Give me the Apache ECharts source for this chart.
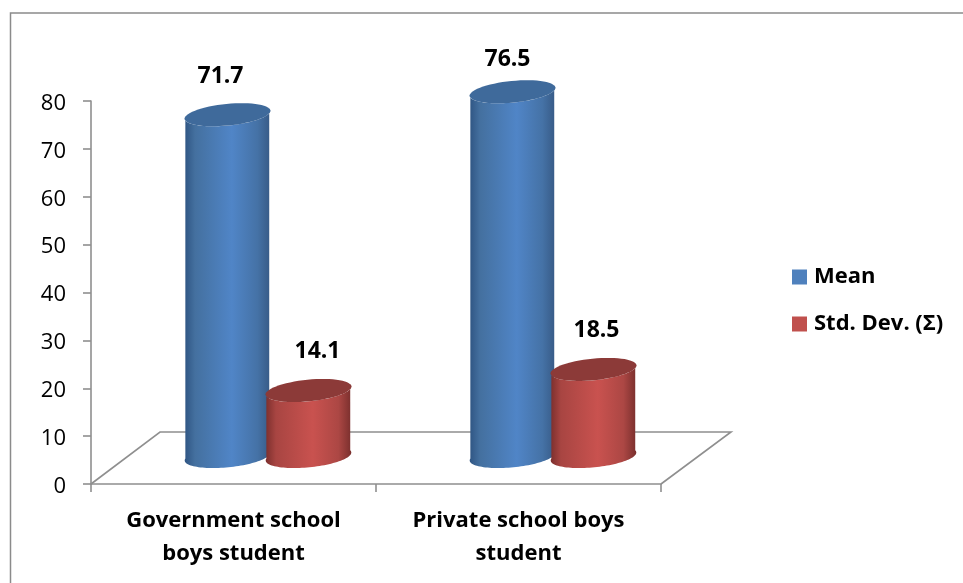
<!DOCTYPE html>
<html><head><meta charset="utf-8">
<style>html,body{margin:0;padding:0;background:#fff}#c{width:963px;height:583px}</style>
<script src="https://cdn.jsdelivr.net/npm/echarts@6/dist/echarts.min.js"></script>
</head><body><div id="c"></div>
<script>
const categories = ['Government school\nboys student', 'Private school boys\nstudent'];
const meanValues = [71.7, 76.5];
const stdValues = [14.1, 18.5];
const yTicks = { min: 0, max: 80, interval: 10 };

const FONT = '"Open Sans", sans-serif';
const depth = { x: 69, y: 52 };
const rx = 43, ry = 10.8, tilt = -5.6 * Math.PI / 180;
const barOffset = 40.5;
const labelOffsets = {
  Mean: [[-7, -38], [-5, -32]],
  Std: [[9, -39], [3, -39]]
};

function ell(cx, cy, t) {
  const ex = rx * Math.cos(t), ey = ry * Math.sin(t);
  return [cx + ex * Math.cos(tilt) - ey * Math.sin(tilt), cy + ex * Math.sin(tilt) + ey * Math.cos(tilt)];
}
function ellipsePts(cx, cy, from, to) {
  const pts = [], n = 60;
  for (let i = 0; i <= n; i++) pts.push(ell(cx, cy, from + (to - from) * i / n));
  return pts;
}
function grad(stops) {
  return { type: 'linear', x: 0, y: 0, x2: 1, y2: 0, colorStops: stops.map(s => ({ offset: s[0], color: s[1] })) };
}
function cylinder(sign, side, topColor, key) {
  return function (params, api) {
    const v = api.value(1), i = api.value(0);
    const base = api.coord([i, 0]), top = api.coord([i, v]);
    const cx = base[0] + depth.x / 2 + sign * barOffset;
    const by = base[1] - depth.y / 2 - 1.5, ty = top[1] - depth.y / 2;
    const off = labelOffsets[key][i];
    return {
      type: 'group',
      children: [
        { type: 'polygon', shape: { points: ellipsePts(cx, by, -0.2, Math.PI + 0.2).concat(ellipsePts(cx, ty, Math.PI + 0.2, -0.2)) }, style: { fill: grad(side) } },
        { type: 'polygon', shape: { points: ellipsePts(cx, ty, 0, 2 * Math.PI) }, style: { fill: topColor } },
        { type: 'text', style: { text: v.toFixed(1), x: cx + off[0], y: ty + off[1], align: 'center', verticalAlign: 'middle', font: 'bold 23px ' + FONT, fill: '#000' } }
      ]
    };
  };
}
const floorSeries = {
  type: 'custom', silent: true, z: 1, data: [[0, 0]],
  renderItem(params) {
    const w = params.coordSys.width;
    const x0 = params.coordSys.x, y0 = params.coordSys.y + params.coordSys.height;
    return {
      type: 'polyline',
      shape: { points: [[x0, y0], [x0 + depth.x, y0 - depth.y], [x0 + w + depth.x + 1, y0 - depth.y], [x0 + w, y0]] },
      style: { fill: 'none', stroke: '#8f8f8f', lineWidth: 1.6 }
    };
  }
};
const chart = echarts.init(document.getElementById('c'), null, { renderer: 'canvas' });
chart.setOption({
  animation: false,
  backgroundColor: '#fff',
  graphic: [{ type: 'rect', silent: true, z: -1, shape: { x: 10.5, y: 13, width: 960, height: 580 }, style: { fill: 'none', stroke: '#8b8b8b', lineWidth: 1.5 } }],
  grid: { left: 91, right: 302, top: 101, bottom: 99 },
  legend: {
    orient: 'vertical', left: 792, top: 266, padding: 0, itemWidth: 15, itemHeight: 15, itemGap: 25, icon: 'rect',
    data: ['Mean', 'Std. Dev. (Σ)'],
    textStyle: { fontFamily: FONT, fontWeight: 'bold', fontSize: 22, color: '#000', padding: [2, 0, 0, 2] }
  },
  xAxis: {
    type: 'category', data: categories, boundaryGap: true,
    axisLine: { lineStyle: { color: '#8f8f8f', width: 1.6 } },
    axisTick: { show: true, length: 8, alignWithLabel: false, lineStyle: { color: '#8f8f8f', width: 1.6 } },
    axisLabel: { interval: 0, margin: 20, fontFamily: FONT, fontWeight: 'bold', fontSize: 22, color: '#000', lineHeight: 33 }
  },
  yAxis: {
    type: 'value', min: yTicks.min, max: yTicks.max, interval: yTicks.interval,
    splitLine: { show: false },
    axisLine: { show: true, lineStyle: { color: '#8f8f8f', width: 1.6 } },
    axisTick: { show: true, length: 8, lineStyle: { color: '#8f8f8f', width: 1.6 } },
    axisLabel: { margin: 25, formatter: '{a|{value}}', rich: { a: { fontFamily: FONT, fontSize: 22, color: '#000', padding: [5, 0, 0, 0] } } }
  },
  series: [
    floorSeries,
    { name: 'Mean', type: 'custom', z: 3, itemStyle: { color: '#4f81bd' }, encode: { x: 0, y: 1 },
      data: meanValues.map((v, i) => [i, v]),
      renderItem: cylinder(-1, [[0, '#2f5583'], [0.12, '#44709f'], [0.55, '#5085c7'], [0.85, '#4572a6'], [1, '#375a86']], '#3f6a9b', 'Mean') },
    { name: 'Std. Dev. (Σ)', type: 'custom', z: 4, itemStyle: { color: '#c0504d' }, encode: { x: 0, y: 1 },
      data: stdValues.map((v, i) => [i, v]),
      renderItem: cylinder(1, [[0, '#7c2f2d'], [0.12, '#a84542'], [0.55, '#c9524f'], [0.85, '#ac4744'], [1, '#7a2f2d']], '#8c3a38', 'Std') }
  ]
});
</script></body></html>
